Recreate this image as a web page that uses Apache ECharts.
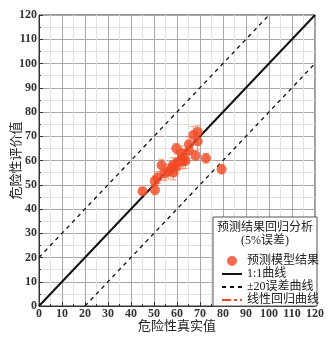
<!DOCTYPE html>
<html>
<head>
<meta charset="utf-8">
<script src="https://cdn.jsdelivr.net/npm/echarts@6/dist/echarts.min.js"></script>
<style>
html,body{margin:0;padding:0;background:#fff;}
#c{width:332px;height:337px;}
</style>
</head>
<body>
<div id="c"></div>
<script>
// Measured vs. predicted hazard values
const trueValues = [45, 50.4, 50.3, 51.6, 53.3, 54.5, 56.2, 57.6, 58.4, 58.3, 59.8, 59.7, 60.3, 62, 62.5, 63.7, 62.7, 65.2, 65.2, 67.1, 68.1, 69, 69, 72.6, 79.4];
const evalValues = [47.3, 47.8, 51.5, 53, 58, 54.7, 55.4, 56.8, 55, 58.1, 57.4, 65, 59.5, 63, 59.5, 59.8, 61.5, 66.7, 64, 70.5, 62, 67.8, 71.8, 60.9, 56.4];
const errValues  = [1.5, 2, 2, 2.5, 2.5, 3, 3, 2.5, 3, 3, 3, 2, 3, 3, 3, 3, 3, 3, 3, 3.5, 2, 3.5, 2.5, 2, 2];
const tickValues = [0, 10, 20, 30, 40, 50, 60, 70, 80, 90, 100, 110, 120];
const legendTitle = ['预测结果回归分析', '(5%误差)'];
const names = ['预测模型结果', '1:1曲线', '±20误差曲线', '线性回归曲线'];

const FONT = '"Liberation Serif", "Noto Sans CJK SC", serif';
const RED = '#f04a24';

const points = trueValues.map((x, i) => [x, evalValues[i]]);
const errData = trueValues.map((x, i) => [x, evalValues[i] - errValues[i], evalValues[i] + errValues[i]]);

function axis(name, pos) {
  return {
    type: 'value', min: tickValues[0], max: tickValues[tickValues.length - 1], interval: 10,
    position: pos,
    name: name, nameLocation: 'middle', nameGap: pos === 'left' ? 16 : 14,
    nameMoveOverlap: false,
    nameTextStyle: {fontFamily: FONT, fontSize: 13, color: '#222'},
    axisLine: {show: true, lineStyle: {color: '#333', width: 1}},
    axisTick: {show: true, inside: true, length: 4, lineStyle: {color: '#333'}},
    minorTick: {show: true, splitNumber: 2, length: 2, lineStyle: {color: '#333'}},
    axisLabel: {fontFamily: FONT, fontSize: 12, fontWeight: 'bold', color: '#333', margin: 2},
    splitLine: {show: true, lineStyle: {color: '#a8a8a8', width: 1}},
    minorSplitLine: {show: true, lineStyle: {color: '#e2e2e2', width: 1}}
  };
}

const hideSymbol = {opacity: 0};

const chart = echarts.init(document.getElementById('c'));
chart.setOption({
  animation: false,
  backgroundColor: '#fff',
  grid: {left: 39, right: 17, top: 15, bottom: 31, containLabel: false, outerBoundsMode: 'none',
         show: true, borderColor: '#333', borderWidth: 1, backgroundColor: 'transparent'},
  xAxis: axis('危险性真实值', 'bottom'),
  yAxis: axis('危险性评价值', 'left'),
  legend: {
    orient: 'vertical', left: 216, top: 250, itemGap: 1, itemWidth: 20, itemHeight: 10, z: 30,
    textStyle: {fontFamily: FONT, fontSize: 12, color: '#222'},
    data: [
      {name: names[0], icon: 'circle'},
      {name: names[1], itemStyle: hideSymbol},
      {name: names[2], itemStyle: hideSymbol},
      {name: names[3], itemStyle: hideSymbol}
    ]
  },
  graphic: [
    {type: 'rect', x: 213, y: 217, shape: {width: 104, height: 89}, style: {fill: '#fff', stroke: '#555', lineWidth: 1}, z: 5},
    {type: 'text', x: 265, y: 222, style: {text: legendTitle[0], font: '12px ' + FONT, fill: '#222', align: 'center'}, z: 6},
    {type: 'text', x: 265, y: 235, style: {text: legendTitle[1], font: '12px ' + FONT, fill: '#222', align: 'center'}, z: 6}
  ],
  series: [
    {
      name: names[3], type: 'line', data: [[0, 0], [120, 120]], symbol: 'none', z: 1,
      lineStyle: {color: RED, width: 1, type: [9, 3, 3, 3]}, itemStyle: {color: RED}
    },
    {
      name: names[1], type: 'line', data: [[0, 0], [120, 120]], symbol: 'none', z: 3,
      lineStyle: {color: '#111', width: 2}, itemStyle: {color: '#111'}
    },
    {
      name: names[2], type: 'line', data: [[0, 20], [100, 120]], symbol: 'none', z: 3,
      lineStyle: {color: '#111', width: 1.3, type: [4, 4]}, itemStyle: {color: '#111'}
    },
    {
      name: '_up', type: 'line', data: [[20, 0], [120, 100]], symbol: 'none', z: 3,
      lineStyle: {color: '#111', width: 1.3, type: [4, 4]}
    },
    {
      type: 'custom', z: 4,
      data: errData,
      renderItem: function (params, api) {
        const x = api.value(0);
        const lo = api.coord([x, api.value(1)]);
        const hi = api.coord([x, api.value(2)]);
        const w = 3;
        const st = {stroke: 'rgba(240,120,70,0.7)', lineWidth: 1};
        return {type: 'group', children: [
          {type: 'line', shape: {x1: lo[0], y1: lo[1], x2: hi[0], y2: hi[1]}, style: st},
          {type: 'line', shape: {x1: lo[0] - w, y1: lo[1], x2: lo[0] + w, y2: lo[1]}, style: st},
          {type: 'line', shape: {x1: hi[0] - w, y1: hi[1], x2: hi[0] + w, y2: hi[1]}, style: st}
        ]};
      }
    },
    {
      name: names[0], type: 'scatter', data: points, symbolSize: 10, z: 5,
      itemStyle: {color: RED}
    }
  ]
});
</script>
</body>
</html>
